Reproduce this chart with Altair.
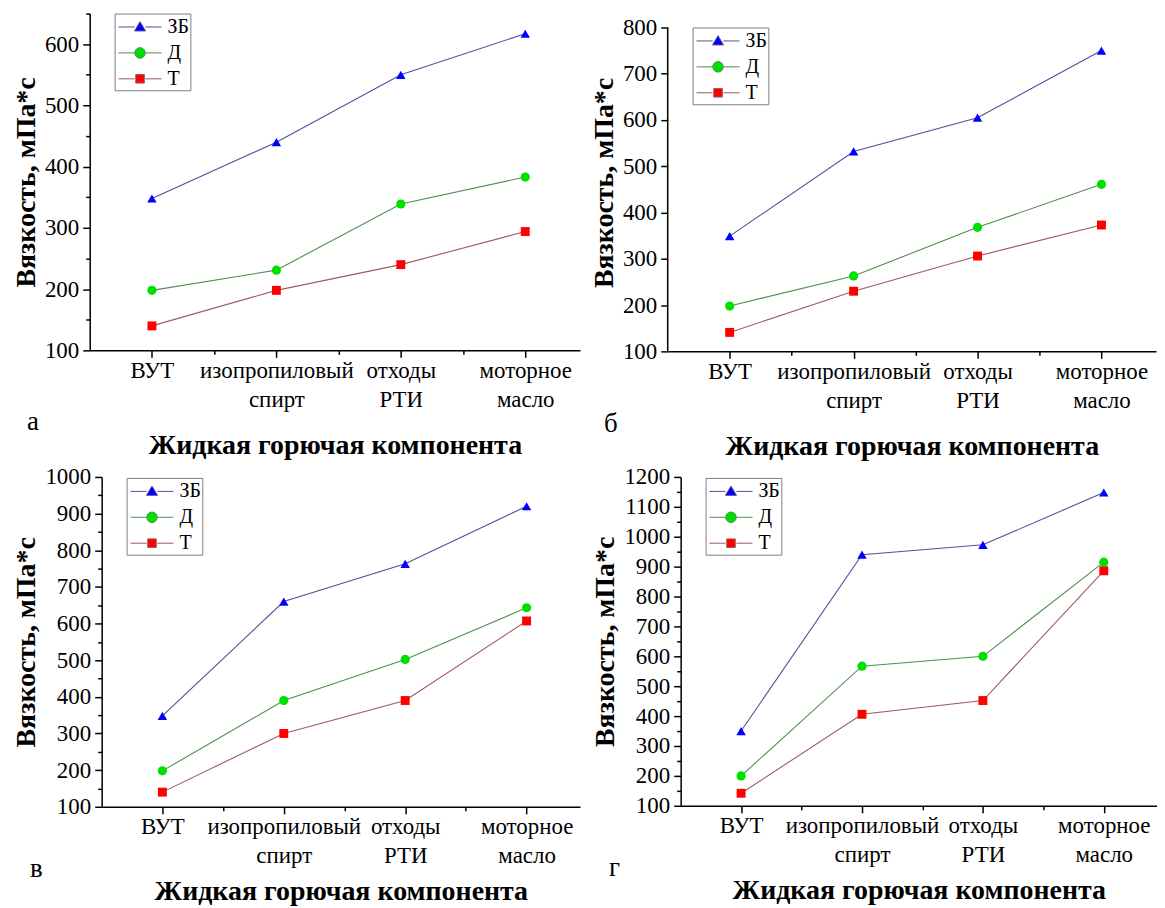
import json
import altair as alt
import pandas as pd

# ---------------- data ----------------
categories = ["ВУТ", "изопропиловый спирт", "отходы РТИ", "моторное масло"]
category_label_lines = [["ВУТ"], ["изопропиловый", "спирт"], ["отходы", "РТИ"], ["моторное", "масло"]]
category_positions = [1, 2, 3, 4]
series = ["ЗБ", "Д", "Т"]

# panel а
a_zb = [348, 440, 550, 617]
a_d = [198, 231, 339, 383]
a_t = [140, 198, 240, 294]
# panel б
b_zb = [349, 532, 605, 750]
b_d = [198, 263, 368, 461]
b_t = [141, 230, 306, 373]
# panel в
v_zb = [348, 660, 763, 920]
v_d = [198, 390, 502, 643]
v_t = [140, 300, 390, 607]
# panel г
g_zb = [350, 940, 973, 1148]
g_d = [200, 567, 600, 915]
g_t = [142, 406, 452, 886]

x_title = "Жидкая горючая компонента"
y_title = "Вязкость, мПа*с"
panel_letters = ["а", "б", "в", "г"]

# ---------------- style ----------------
FONT = "Liberation Serif"
marker_colors = ["#0000ff", "#00e000", "#ff0000"]
line_colors = ["#50509c", "#4f8f4f", "#a05a5a"]
marker_shapes = ["triangle-up", "circle", "square"]
marker_sizes = [90, 80, 58]

legend_line = "M-1.8,0L-0.45,0M0.45,0L1.8,0"
legend_marks = [
    "M0,-0.44L0.46,0.33L-0.46,0.33Z",
    "M-0.44,0A0.44,0.44,0,1,0,0.44,0A0.44,0.44,0,1,0,-0.44,0Z",
    "M-0.36,-0.36L0.36,-0.36L0.36,0.36L-0.36,0.36Z",
]
legend_shapes = [legend_line + m for m in legend_marks]

x_label_expr = "''"
for pos, lines in reversed(list(zip(category_positions, category_label_lines))):
    x_label_expr = f"datum.value == {pos} ? {json.dumps(lines, ensure_ascii=False)} : ({x_label_expr})"

IND = dict(fill="independent", shape="independent", stroke="independent", size="independent")


def make_panel(zb, d, t, letter, ymax, ytop_tick, width, height, letter_dx, letter_dy, title_pad,
               legend_y=0, axis_top=None):
    rows = []
    for s, vals in zip(series, [zb, d, t]):
        for pos, cat, v in zip(category_positions, categories, vals):
            rows.append({"pos": pos, "category": cat, "series": s, "value": v})
    df = pd.DataFrame(rows)

    x_enc = alt.X(
        "pos:Q",
        scale=alt.Scale(domain=[0.5, 4.44], nice=False, zero=False),
        axis=alt.Axis(
            values=[1, 1.5, 2, 2.5, 3, 3.5, 4],
            labelExpr=x_label_expr,
            labelLineHeight=29,
            labelOverlap=False,
            labelBound=False,
            labelFlush=False,
            labelPadding=2,
            tickSize={"condition": {"test": "datum.value % 1 != 0", "value": 4}, "value": 7},
            title=x_title,
            titlePadding=title_pad,
        ),
    )
    yvals = list(range(100, ytop_tick + 1, 50))
    y_enc = alt.Y(
        "value:Q",
        scale=alt.Scale(domain=[100, ymax], nice=False, zero=False),
        axis=alt.Axis(
            values=yvals,
            format="d",
            labelExpr="datum.value % 100 == 0 ? datum.label : ''",
            labelPadding=4,
            tickSize={"condition": {"test": "datum.value % 100 != 0", "value": 4}, "value": 7},
            title=y_title,
            titlePadding=4,
            domain=axis_top is None,
        ),
    )

    base = alt.Chart(df)
    lines = base.mark_line(strokeWidth=1.1).encode(
        x=x_enc,
        y=y_enc,
        stroke=alt.Stroke("series:N", scale=alt.Scale(domain=series, range=line_colors), legend=None),
        detail="series:N",
    )
    points = base.mark_point(filled=True, opacity=1).encode(
        x=x_enc,
        y=y_enc,
        fill=alt.Fill("series:N", scale=alt.Scale(domain=series, range=marker_colors), legend=None),
        shape=alt.Shape("series:N", scale=alt.Scale(domain=series, range=marker_shapes), legend=None),
        size=alt.Size("series:N", scale=alt.Scale(domain=series, range=marker_sizes), legend=None),
    )
    legend = alt.Legend(
        orient="none",
        legendX=25,
        legendY=legend_y,
        title=None,
        strokeColor="#7f7f7f",
        fillColor="white",
        padding=1,
        labelFont=FONT,
        labelFontSize=20,
        labelColor="black",
        labelOffset=15,
        symbolSize=576,
        symbolOffset=12,
        symbolStrokeWidth=1,
        symbolOpacity=1,
        rowPadding=3,
    )
    # legend-only layer (no data rows survive the filter; legend entries come from the scale domains)
    legend_layer = base.transform_filter("datum.value < 0").mark_point(filled=True, opacity=1).encode(
        x=x_enc,
        y=y_enc,
        fill=alt.Fill("series:N", scale=alt.Scale(domain=series, range=marker_colors), legend=legend),
        stroke=alt.Stroke("series:N", scale=alt.Scale(domain=series, range=line_colors), legend=legend),
        shape=alt.Shape("series:N", scale=alt.Scale(domain=series, range=legend_shapes), legend=legend),
    )
    txt = alt.Chart(pd.DataFrame({"t": [letter]})).mark_text(
        align="left", baseline="alphabetic", font=FONT, fontSize=27, color="black"
    ).encode(text="t:N", x=alt.value(letter_dx), y=alt.value(height + letter_dy))

    layers = [lines, points, legend_layer, txt]
    if axis_top is not None:
        axis_df = pd.DataFrame({"lo": [100], "hi": [axis_top]})
        rule = alt.Chart(axis_df).mark_rule(color="black", strokeWidth=1.5).encode(
            x=alt.value(0),
            y=alt.Y("lo:Q", title=y_title),
            y2="hi:Q",
        )
        layers = [rule] + layers
    return alt.layer(*layers).properties(width=width, height=height).resolve_scale(**IND)


def spacer(w):
    # empty view (all rows filtered out) that only reserves horizontal room
    return alt.Chart(pd.DataFrame({"s": [0]})).transform_filter("datum.s > 1").mark_point().encode(
        x=alt.value(0), y=alt.value(0)
    ).properties(width=w, height=1)


pa = make_panel(a_zb, a_d, a_t, panel_letters[0], 650, 650, 492, 338, -63, 80, 20)
pb = make_panel(b_zb, b_d, b_t, panel_letters[1], 830, 800, 490, 339, -64, 81, 20, legend_y=14, axis_top=800)
pv = make_panel(v_zb, v_d, v_t, panel_letters[2], 1000, 1000, 480, 331, -72, 70, 10, legend_y=1)
pg = make_panel(g_zb, g_d, g_t, panel_letters[3], 1200, 1200, 478, 330, -72, 70, 10, legend_y=1)

top = alt.hconcat(spacer(4), pa, spacer(10), pb, spacing=0).resolve_scale(**IND)
bottom = alt.hconcat(spacer(5), pv, spacer(12), pg, spacing=0).resolve_scale(**IND)

chart = alt.vconcat(top, bottom, spacing=6).resolve_scale(**IND).properties(
    padding={"left": 0, "top": 3, "right": 0, "bottom": 0},
    background="white",
).configure_view(stroke=None).configure_axis(
    grid=False,
    labelFont=FONT,
    labelFontSize=23,
    labelColor="black",
    titleFont=FONT,
    titleFontSize=28,
    titleFontWeight="bold",
    titleColor="black",
    domainColor="black",
    domainWidth=1.5,
    tickColor="black",
    tickWidth=1.5,
)

chart.save("out.html", embed_options={"renderer": "svg", "actions": False})
